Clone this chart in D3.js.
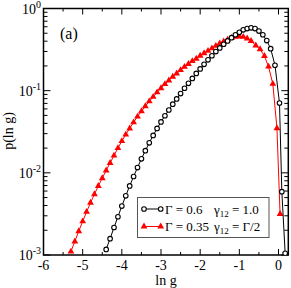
<!DOCTYPE html>
<html lang="en">
<head>
<meta charset="UTF-8">
<title>p(ln g)</title>
<script src="https://d3js.org/d3.v7.min.js"></script>
<style>
  body { margin: 0; background: #fff; }
  svg { font-family: "Liberation Serif", "Times New Roman", serif; }
</style>
</head>
<body>
<div id="chart"></div>
<script>
// Gamma = 0.6, gamma12 = 1.0 (open circles)
var lnG1 = [-4.4, -4.3, -4.2, -4.1, -4.0, -3.9, -3.8, -3.7, -3.6, -3.5, -3.4, -3.3, -3.2, -3.1, -3.0,
            -2.9, -2.8, -2.7, -2.6, -2.5, -2.4, -2.3, -2.2, -2.1, -2.0, -1.9, -1.8, -1.7, -1.6, -1.5,
            -1.4, -1.3, -1.2, -1.1, -1.0, -0.9, -0.8, -0.7, -0.6, -0.5, -0.4, -0.3, -0.2, -0.09,
            0.025, 0.085, 0.17];
var p1 = [0.00117, 0.00158, 0.00216, 0.00292, 0.00394, 0.00525, 0.00692, 0.00902, 0.0116, 0.0148,
          0.0186, 0.0232, 0.0285, 0.0347, 0.0417, 0.0495, 0.0582, 0.0684, 0.0794, 0.0923,
          0.107, 0.123, 0.141, 0.162, 0.184, 0.209, 0.237, 0.266, 0.299, 0.331,
          0.367, 0.403, 0.442, 0.479, 0.513, 0.550, 0.569, 0.582, 0.569, 0.531,
          0.479, 0.407, 0.324, 0.204, 0.0708, 0.00589, 0.00105];

// Gamma = 0.35, gamma12 = Gamma/2 (red triangles)
var lnG2 = [-5.3, -5.2, -5.1, -5.0, -4.9, -4.8, -4.7, -4.6, -4.5, -4.4, -4.3, -4.2, -4.1, -4.0,
            -3.9, -3.8, -3.7, -3.6, -3.5, -3.4, -3.3, -3.2, -3.1, -3.0, -2.9, -2.8, -2.7, -2.6,
            -2.5, -2.4, -2.3, -2.2, -2.1, -2.0, -1.9, -1.8, -1.7, -1.6, -1.5, -1.4, -1.3, -1.2,
            -1.1, -1.0, -0.9, -0.8, -0.7, -0.58, -0.47, -0.36, -0.255, -0.145, -0.04, 0.04];
var p2 = [0.00110, 0.00146, 0.00195, 0.00257, 0.00335, 0.00432, 0.00550, 0.00692, 0.00861, 0.0107,
          0.0132, 0.0162, 0.0200, 0.0243, 0.0292, 0.0347, 0.0412, 0.0484, 0.0562, 0.0646,
          0.0741, 0.0841, 0.0955, 0.107, 0.120, 0.133, 0.148, 0.162, 0.178, 0.195,
          0.211, 0.229, 0.245, 0.266, 0.285, 0.305, 0.327, 0.351, 0.376, 0.398,
          0.417, 0.437, 0.452, 0.457, 0.452, 0.432, 0.403, 0.355, 0.319, 0.264,
          0.196, 0.121, 0.0349, 0.00316];

var xTicks = [-6, -5, -4, -3, -2, -1, 0];
var xMinor = [-5.5, -4.5, -3.5, -2.5, -1.5, -0.5];
var yExps = [0, -1, -2, -3];

var width = 291, height = 288;
var plotL = 43.5, plotR = 288.3, plotT = 8.5, plotB = 255;

var svg = d3.select("#chart").append("svg")
    .attr("width", width)
    .attr("height", height);

var x = d3.scaleLinear().domain([-6, 0.25]).range([plotL, plotR]);
var y = d3.scaleLog().domain([1e-3, 1]).range([plotB, plotT]);

// clip for curves
svg.append("clipPath").attr("id", "clip")
  .append("rect").attr("x", plotL).attr("y", plotT)
  .attr("width", plotR - plotL).attr("height", plotB - plotT);

// ticks (inside, all four sides)
var ticks = svg.append("g").attr("stroke", "#000").attr("stroke-width", 1);
xTicks.forEach(function(t) {
  ticks.append("line").attr("x1", x(t)).attr("x2", x(t)).attr("y1", plotB).attr("y2", plotB - 6);
  ticks.append("line").attr("x1", x(t)).attr("x2", x(t)).attr("y1", plotT).attr("y2", plotT + 6);
});
xMinor.forEach(function(t) {
  ticks.append("line").attr("x1", x(t)).attr("x2", x(t)).attr("y1", plotB).attr("y2", plotB - 3);
  ticks.append("line").attr("x1", x(t)).attr("x2", x(t)).attr("y1", plotT).attr("y2", plotT + 3);
});
yExps.forEach(function(e) {
  var v = Math.pow(10, e);
  ticks.append("line").attr("x1", plotL).attr("x2", plotL + 7).attr("y1", y(v)).attr("y2", y(v));
  ticks.append("line").attr("x1", plotR).attr("x2", plotR - 7).attr("y1", y(v)).attr("y2", y(v));
  if (e > -3) {
    for (var k = 2; k <= 9; k++) {
      var m = v / 10 * k;
      ticks.append("line").attr("x1", plotL).attr("x2", plotL + 4).attr("y1", y(m)).attr("y2", y(m));
      ticks.append("line").attr("x1", plotR).attr("x2", plotR - 4).attr("y1", y(m)).attr("y2", y(m));
    }
  }
});

// frame
svg.append("rect")
  .attr("x", plotL).attr("y", plotT)
  .attr("width", plotR - plotL).attr("height", plotB - plotT)
  .attr("fill", "none").attr("stroke", "#000").attr("stroke-width", 1.5);

// tick labels
svg.selectAll(".xl").data(xTicks).join("text")
  .attr("x", d => x(d)).attr("y", 270)
  .attr("text-anchor", "middle").attr("font-size", 14)
  .text(d => d);

yExps.forEach(function(e) {
  var t = svg.append("text")
    .attr("x", 41).attr("y", y(Math.pow(10, e)) + 5)
    .attr("text-anchor", "end").attr("font-size", 14);
  t.append("tspan").text("10");
  t.append("tspan").attr("font-size", 10).attr("dy", -6).text(e === 0 ? "0" : e);
});

// axis titles
svg.append("text").attr("x", 166).attr("y", 284.5)
  .attr("text-anchor", "middle").attr("font-size", 14).text("ln g");
svg.append("text")
  .attr("transform", "translate(13," + 131 + ") rotate(-90)")
  .attr("text-anchor", "middle").attr("font-size", 14).text("p(ln g)");
svg.append("text").attr("x", 60).attr("y", 39).attr("font-size", 16).text("(a)");

// curves
var s1 = lnG1.map((d, i) => [d, p1[i]]);
var s2 = lnG2.map((d, i) => [d, p2[i]]);
var line = d3.line().x(d => x(d[0])).y(d => y(d[1]));
var plot = svg.append("g").attr("clip-path", "url(#clip)");

plot.append("path").datum(s2).attr("d", line)
  .attr("fill", "none").attr("stroke", "#ff0000").attr("stroke-width", 1);
var tri = d3.symbol().type(d3.symbolTriangle).size(20);
plot.selectAll(".tri").data(s2).join("path")
  .attr("transform", d => "translate(" + x(d[0]) + "," + y(d[1]) + ")")
  .attr("d", tri).attr("fill", "#ff0000");

plot.append("path").datum(s1).attr("d", line)
  .attr("fill", "none").attr("stroke", "#000").attr("stroke-width", 1);
plot.selectAll(".circ").data(s1).join("circle")
  .attr("cx", d => x(d[0])).attr("cy", d => y(d[1])).attr("r", 2.3)
  .attr("fill", "#fff").attr("stroke", "#000").attr("stroke-width", 1.1);

// legend
var lg = svg.append("g");
lg.append("rect").attr("x", 137.5).attr("y", 197.5).attr("width", 131.5).attr("height", 40)
  .attr("fill", "#fff").attr("stroke", "#555").attr("stroke-width", 1);
var rows = [
  {y: 209, label: "\u0393 = 0.6", g: "1.0", color: "#000", circle: true},
  {y: 226.5, label: "\u0393 = 0.35", g: "\u0393/2", color: "#ff0000", circle: false}
];
rows.forEach(function(r) {
  lg.append("line").attr("x1", 144).attr("x2", 160.7).attr("y1", r.y).attr("y2", r.y)
    .attr("stroke", r.color).attr("stroke-width", 1);
  [144, 160.7].forEach(function(cx) {
    if (r.circle) {
      lg.append("circle").attr("cx", cx).attr("cy", r.y).attr("r", 2.3)
        .attr("fill", "#fff").attr("stroke", "#000").attr("stroke-width", 1.1);
    } else {
      lg.append("path").attr("transform", "translate(" + cx + "," + r.y + ")")
        .attr("d", tri).attr("fill", "#ff0000");
    }
  });
  lg.append("text").attr("x", 165).attr("y", r.y + 4.5).attr("font-size", 13).text(r.label);
  var t = lg.append("text").attr("x", 214).attr("y", r.y + 4.5).attr("font-size", 13);
  t.append("tspan").text("\u03b3");
  t.append("tspan").attr("font-size", 9).attr("dy", 3).text("12");
  t.append("tspan").attr("dy", -3).text(" = " + r.g);
});
</script>
</body>
</html>
